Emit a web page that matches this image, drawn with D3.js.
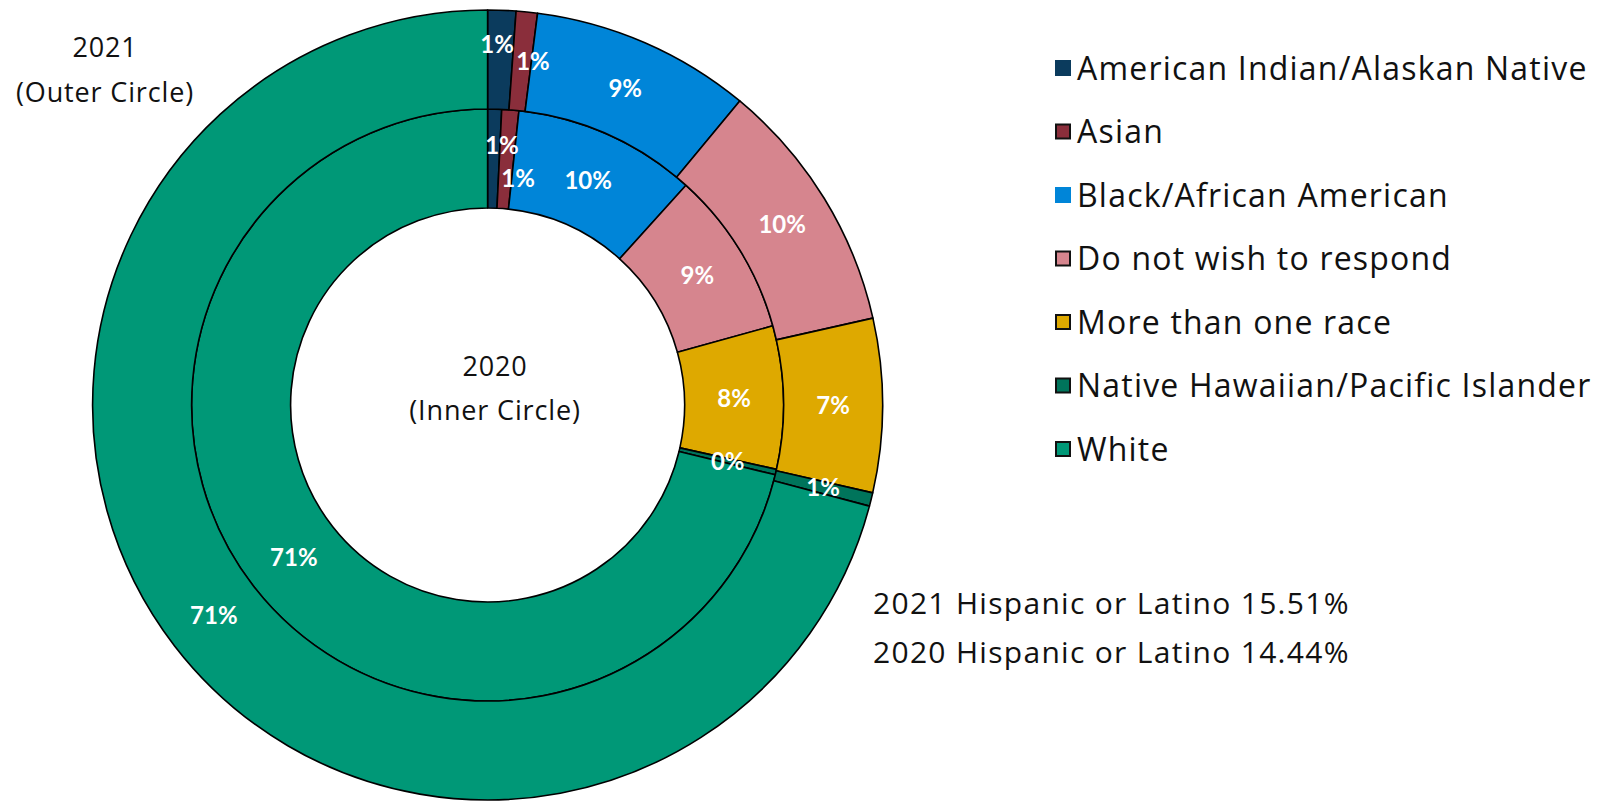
<!DOCTYPE html>
<html><head><meta charset="utf-8">
<script src="https://cdn.jsdelivr.net/npm/d3@7"></script>
<style>body{margin:0;background:#fff}svg{display:block}</style></head>
<body>
<svg id="chart" width="1598" height="801"></svg>
<script>
// ---- data ----
const categories = ["American Indian/Alaskan Native","Asian","Black/African American","Do not wish to respond","More than one race","Native Hawaiian/Pacific Islander","White"];
const colors = ["#0B3B5D","#8A2E3B","#0085D8","#D6858E","#DEA900","#00745B","#009877"];
const legendBorder = [false,true,false,true,true,true,true];
const values2021 = [1.15,0.87,9.0,10.45,7.1,0.55,70.88];   // outer ring
const values2020 = [0.76,0.93,10.0,9.0,7.8,0.3,71.21];     // inner ring
const outerTitle = ["2021","(Outer Circle)"];
const innerTitle = ["2020","(Inner Circle)"];
const notes = ["2021 Hispanic or Latino 15.51%","2020 Hispanic or Latino 14.44%"];

// ---- layout ----
const svg = d3.select("#chart");
const cx = 487.6, cy = 405;
const rHole = 197, rMid = 296, rOut = 395;
const textFont = "'Open Sans', 'Noto Sans', sans-serif";
const labelFont = "Lato, 'Open Sans', sans-serif";
const fmt = v => d3.format(".0f")(v) + "%";

const pie = d3.pie().sort(null).value(d => d);
const g = svg.append("g").attr("transform", `translate(${cx},${cy})`);

const rings = [
  {key:"inner", values: values2020, r0: rHole, r1: rMid},
  {key:"outer", values: values2021, r0: rMid, r1: rOut}
];
// small-slice label nudges (to avoid overlap, as in original)
const labelNudge = {"outer-0":[-3,-15],"outer-1":[11,0],"inner-0":[8.5,-13.5],"inner-1":[11.5,19]};

rings.forEach(ring => {
  const arc = d3.arc().innerRadius(ring.r0).outerRadius(ring.r1);
  const arcs = pie(ring.values);
  const rg = g.append("g").attr("class","ring-"+ring.key);
  rg.selectAll("path").data(arcs).join("path")
    .attr("d", arc)
    .attr("fill", (d,i) => colors[i])
    .attr("stroke", "#000")
    .attr("stroke-width", 1.6)
    .attr("stroke-linejoin","round");
  rg.selectAll("text").data(arcs).join("text")
    .attr("transform", (d,i) => {
      const c = arc.centroid(d);
      const n = labelNudge[ring.key+"-"+i] || [0,0];
      return `translate(${c[0]+n[0]},${c[1]+n[1]})`;
    })
    .attr("text-anchor","middle")
    .attr("dy","0.36em")
    .attr("fill","#fff")
    .style("font-family", labelFont)
    .style("font-weight","bold")
    .style("font-size","24px")
    .text(d => fmt(d.data));
});

// ring titles
svg.append("g").selectAll("text").data(outerTitle).join("text")
  .attr("x", 105).attr("y", (d,i) => 57 + i*45)
  .attr("text-anchor","middle")
  .style("font-family", textFont).style("font-size","27px").style("letter-spacing","0.85px").attr("fill","#111")
  .text(d => d);
svg.append("g").selectAll("text").data(innerTitle).join("text")
  .attr("x", 495).attr("y", (d,i) => 375.5 + i*44.5)
  .attr("text-anchor","middle")
  .style("font-family", textFont).style("font-size","27px").style("letter-spacing","0.85px").attr("fill","#111")
  .text(d => d);

// legend
const leg = svg.append("g").attr("transform","translate(1055,0)");
const items = leg.selectAll("g").data(categories).join("g")
  .attr("transform", (d,i) => `translate(0,${68 + i*63.5})`);
items.append("rect")
  .attr("x", (d,i) => legendBorder[i] ? 1 : 0)
  .attr("y", (d,i) => legendBorder[i] ? -7 : -8)
  .attr("width", (d,i) => legendBorder[i] ? 14 : 16)
  .attr("height", (d,i) => legendBorder[i] ? 14 : 16)
  .attr("fill", (d,i) => colors[i])
  .attr("stroke", (d,i) => legendBorder[i] ? "#111" : "none")
  .attr("stroke-width", 2);
items.append("text")
  .attr("x", 22).attr("y", 11.5)
  .style("font-family", textFont).style("font-size","32px").style("letter-spacing","1.2px").attr("fill","#111")
  .text(d => d);

// notes
svg.append("g").selectAll("text").data(notes).join("text")
  .attr("x", 873).attr("y", (d,i) => 614 + i*49)
  .style("font-family", textFont).style("font-size","30px").style("letter-spacing","1.3px").attr("fill","#111")
  .text(d => d);
</script>
</body></html>
